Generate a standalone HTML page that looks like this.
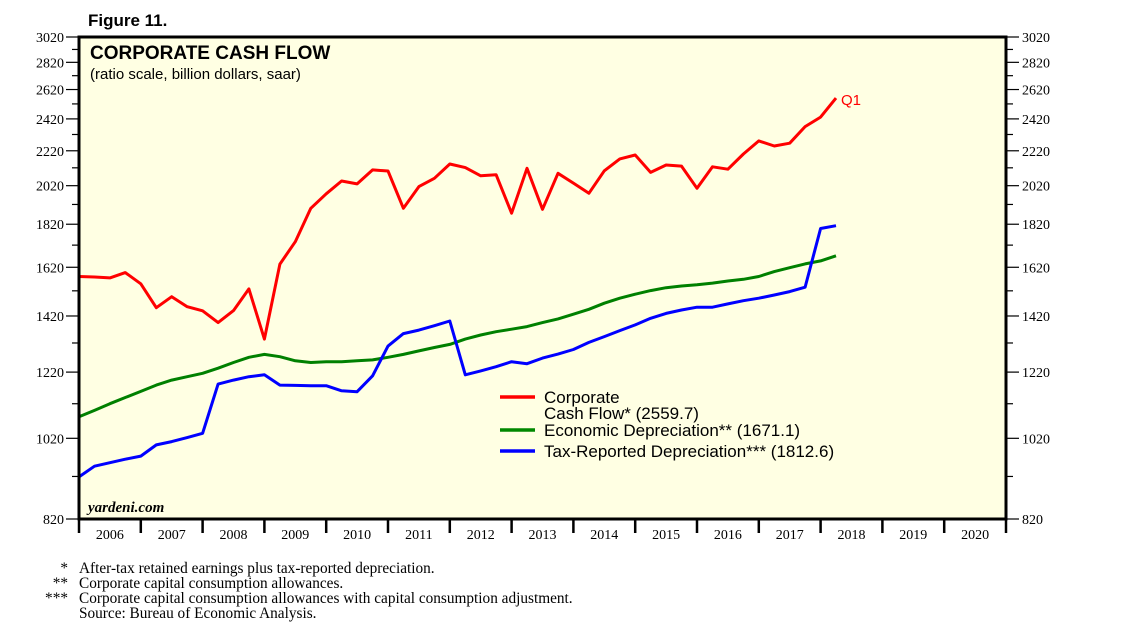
<!DOCTYPE html>
<html><head><meta charset="utf-8"><style>
html,body{margin:0;padding:0;background:#fff;}
svg{display:block;}
.serif{font-family:"Liberation Serif",serif;}
.sans{font-family:"Liberation Sans",sans-serif;}
</style></head><body>
<svg id="chart" width="1138" height="634" viewBox="0 0 1138 634">
<text x="88" y="26" class="sans" font-size="17" font-weight="bold">Figure 11.</text>
<rect x="79" y="37" width="927" height="482" fill="#FFFFE3"/>
<g id="grid"></g>
<g id="series"></g>
<rect x="79" y="37" width="927" height="482" fill="none" stroke="#000" stroke-width="3"/>
<text x="90" y="59" class="sans" font-size="19" font-weight="bold">CORPORATE CASH FLOW</text>
<text x="90" y="79" class="sans" font-size="15">(ratio scale, billion dollars, saar)</text>
<text x="88" y="512" class="serif" font-size="15" font-style="italic" font-weight="bold">yardeni.com</text>
<text x="841" y="105" class="sans" font-size="15" fill="#f00">Q1</text>
<g>
<line x1="500" y1="397" x2="535" y2="397" stroke="#f00" stroke-width="3.5"/>
<text x="544" y="403" class="sans" font-size="17">Corporate</text>
<text x="544" y="419" class="sans" font-size="17">Cash Flow* (2559.7)</text>
<line x1="500" y1="430" x2="535" y2="430" stroke="#080" stroke-width="3.5"/>
<text x="544" y="436" class="sans" font-size="17">Economic Depreciation** (1671.1)</text>
<line x1="500" y1="451" x2="535" y2="451" stroke="#00f" stroke-width="3.5"/>
<text x="544" y="457" class="sans" font-size="17">Tax-Reported Depreciation*** (1812.6)</text>
</g>
<g class="serif" font-size="15.3">
<text x="68" y="573" text-anchor="end">*</text><text x="79" y="573">After-tax retained earnings plus tax-reported depreciation.</text>
<text x="68" y="588" text-anchor="end">**</text><text x="79" y="588">Corporate capital consumption allowances.</text>
<text x="68" y="603" text-anchor="end">***</text><text x="79" y="603">Corporate capital consumption allowances with capital consumption adjustment.</text>
<text x="79" y="618">Source: Bureau of Economic Analysis.</text>
</g>
</svg>
<script>
const yTicks = [820,1020,1220,1420,1620,1820,2020,2220,2420,2620,2820,3020];
const years = [2006,2007,2008,2009,2010,2011,2012,2013,2014,2015,2016,2017,2018,2019,2020];
const cashFlow = [1580,1578,1574,1597,1549,1452,1496,1456,1440,1395,1441,1528,1334,1634,1736,1900,1976,2046,2030,2108,2102,1900,2015,2061,2142,2121,2075,2081,1875,2117,1895,2089,2034,1979,2103,2172,2195,2094,2136,2130,2006,2126,2112,2201,2280,2249,2266,2370,2432,2560];
const econDep = [1081,1100,1120,1139,1158,1178,1194,1205,1216,1233,1252,1270,1280,1272,1258,1252,1255,1255,1258,1261,1270,1280,1292,1304,1315,1334,1349,1361,1370,1380,1395,1409,1427,1446,1470,1490,1506,1521,1533,1540,1545,1552,1561,1568,1580,1601,1618,1635,1648,1671];
const taxDep = [919,946,955,964,972,1002,1011,1022,1034,1181,1194,1205,1211,1178,1177,1176,1176,1160,1157,1208,1309,1354,1367,1383,1401,1211,1224,1238,1255,1248,1267,1281,1297,1322,1343,1365,1386,1411,1430,1443,1454,1454,1467,1480,1490,1503,1517,1535,1799,1813];
const firstQuarter = 2006.0;

const NS="http://www.w3.org/2000/svg";
const L=79,R=1006,T=37,B=519;
const yMin=820,yMax=3020;
function yS(v){return B-(Math.log(v/yMin)/Math.log(yMax/yMin))*(B-T);}
function xS(t){return L+(t-2006)*(R-L)/15;}
function mk(tag,attrs,parent){const e=document.createElementNS(NS,tag);for(const k in attrs)e.setAttribute(k,attrs[k]);parent.appendChild(e);return e;}
const svg=document.getElementById('chart');
const grid=document.getElementById('grid');
yTicks.forEach((v,i)=>{
  const y=yS(v);
  const a=mk('line',{x1:66,x2:79,y1:y,y2:y,stroke:'#000','stroke-width':1.2},grid);
  
  
  const b=mk('line',{x1:1006,x2:1019,y1:y,y2:y,stroke:'#000','stroke-width':1.2},grid);
  
  
  const t1=mk('text',{x:64,y:y+5,'text-anchor':'end','font-size':14,'font-family':'Liberation Serif, serif'},svg);
  t1.textContent=v;
  
  
  const t2=mk('text',{x:1022,y:y+5,'font-size':14,'font-family':'Liberation Serif, serif'},svg);
  t2.textContent=v;
  
  
  if(i<yTicks.length-1){
    const ym=yS((v+yTicks[i+1])/2);
    const m1=mk('line',{x1:72,x2:79,y1:ym,y2:ym,stroke:'#000','stroke-width':1.2},grid);
    
    
    const m2=mk('line',{x1:1006,x2:1013,y1:ym,y2:ym,stroke:'#000','stroke-width':1.2},grid);
    
    
  }
});
years.forEach(yr=>{
  const x=xS(yr);
  const tk=mk('line',{x1:x,x2:x,y1:519,y2:533,stroke:'#000','stroke-width':2.5},svg);
  
  
  const t=mk('text',{x:xS(yr+0.5),y:539,'text-anchor':'middle','font-size':14,'font-family':'Liberation Serif, serif'},svg);
  t.textContent=yr;
  
  
});
const endTick=mk('line',{x1:xS(2021),x2:xS(2021),y1:519,y2:533,stroke:'#000','stroke-width':2.5},svg);


const sg=document.getElementById('series');
function drawLine(data,color,name){
  const pts=data.map((v,i)=>xS(firstQuarter+i*0.25).toFixed(1)+','+yS(v).toFixed(1)).join(' ');
  const p=mk('polyline',{points:pts,fill:'none',stroke:color,'stroke-width':3,'stroke-linejoin':'round'},sg);
  
  
}
drawLine(econDep,'#008000','economic-depreciation-line');
drawLine(taxDep,'#0000ff','tax-reported-depreciation-line');
drawLine(cashFlow,'#ff0000','corporate-cash-flow-line');
</script>
</body></html>
